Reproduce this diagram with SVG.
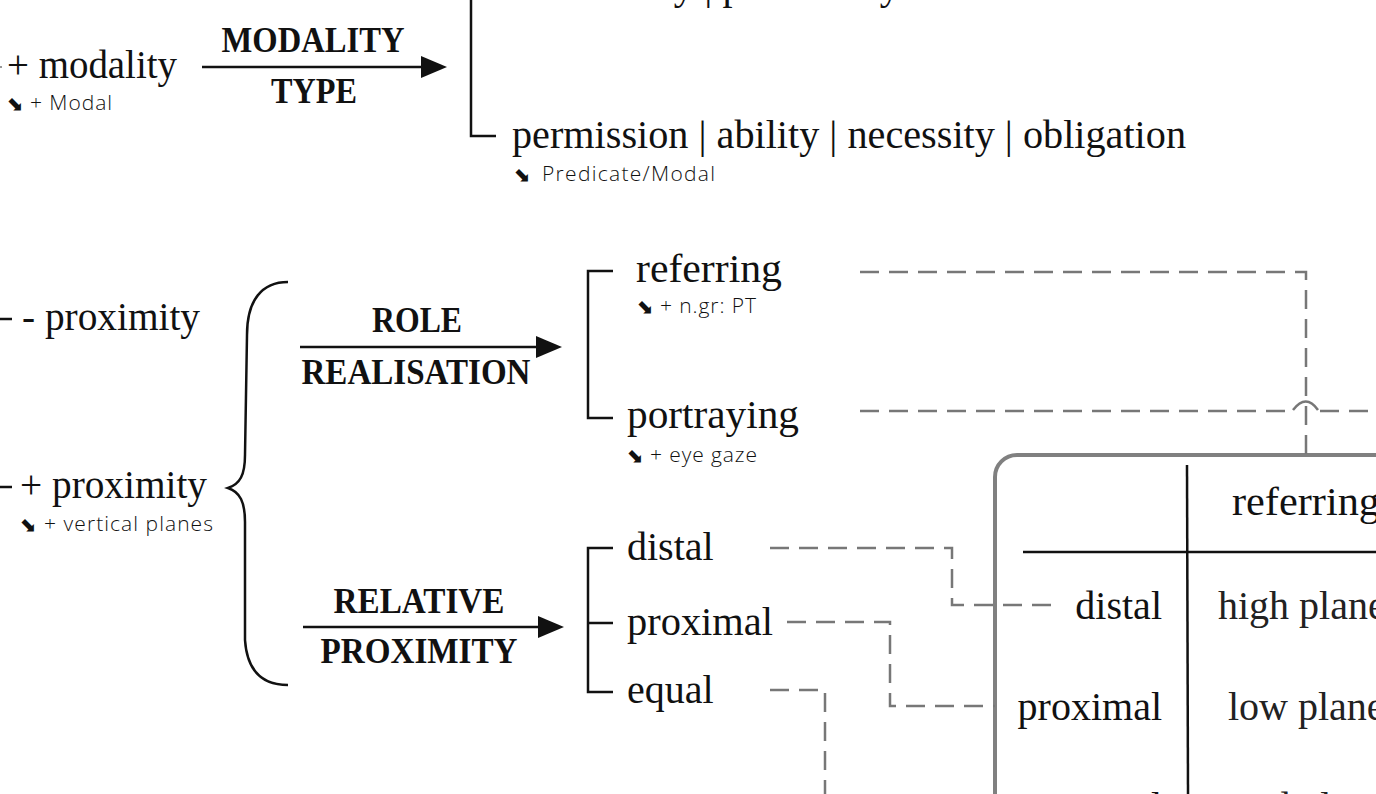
<svg xmlns="http://www.w3.org/2000/svg" width="1376" height="794" viewBox="0 0 1376 794">
<style>
.t{font-family:"Liberation Serif","Times New Roman",serif;font-size:40px;fill:#111}
.b{font-family:"Liberation Serif","Times New Roman",serif;font-size:35px;font-weight:bold;fill:#111;text-anchor:middle}
.s{font-family:"Open Sans","Noto Sans",sans-serif;font-size:21px;font-weight:300;fill:#111}
.a{font-family:"DejaVu Sans",sans-serif;font-size:20px;font-weight:bold;fill:#111}
.ln{stroke:#111;stroke-width:2.5;fill:none}
.d{stroke:#777;stroke-width:2.5;fill:none;stroke-dasharray:19 10}
.cell{font-family:"Liberation Serif","Times New Roman",serif;font-size:40px;fill:#222}
.r{text-anchor:end}
</style>
<defs>
<marker id="ah" markerUnits="userSpaceOnUse" markerWidth="26" markerHeight="22" viewBox="0 0 26 22" refX="1" refY="11" orient="auto">
<path d="M0,0 L26,11 L0,22 z" fill="#111"/>
</marker>
</defs>

<g id="modality">
<line x1="0" y1="67" x2="2" y2="67" stroke="#999" stroke-width="2"/>
<text class="t" x="7" y="78" textLength="170" lengthAdjust="spacingAndGlyphs">+ modality</text>
<text y="110"><tspan class="a" x="6">⬊</tspan><tspan class="s" x="30" textLength="82">+ Modal</tspan></text>
</g>

<g id="modality-type">
<text class="b" x="313" y="52" textLength="183" lengthAdjust="spacingAndGlyphs">MODALITY</text>
<text class="b" x="314" y="103" textLength="86" lengthAdjust="spacingAndGlyphs">TYPE</text>
</g>

<g id="modality-options">
<path class="ln" d="M471,0 V136 H496"/>
<text class="t" x="512" y="-1" textLength="388" lengthAdjust="spacingAndGlyphs">uncertainty | probability</text>
<text class="t" x="512" y="148" textLength="674" lengthAdjust="spacingAndGlyphs">permission | ability | necessity | obligation</text>
<text y="181"><tspan class="a" x="513">⬊</tspan><tspan class="s" x="542" textLength="173">Predicate/Modal</tspan></text>
</g>

<g id="minus-proximity">
<line class="ln" x1="0" y1="319" x2="12" y2="319"/>
<text class="t" x="22" y="330" textLength="178" lengthAdjust="spacingAndGlyphs">- proximity</text>
</g>

<g id="plus-proximity">
<line class="ln" x1="0" y1="487" x2="12" y2="487"/>
<text class="t" x="20" y="498" textLength="187" lengthAdjust="spacingAndGlyphs">+ proximity</text>
<text y="531"><tspan class="a" x="19">⬊</tspan><tspan class="s" x="44" textLength="169">+ vertical planes</tspan></text>
</g>

<g id="brace">
<path class="ln" d="M288,282 C262,282 247,300 247,335 L245,455 C245,475 240,484 228,488 C240,492 245,502 245,522 L245,640 C247,670 262,685 288,685"/>
</g>

<g id="role-realisation">
<text class="b" x="417" y="332" textLength="90" lengthAdjust="spacingAndGlyphs">ROLE</text>
<text class="b" x="416" y="384" textLength="229" lengthAdjust="spacingAndGlyphs">REALISATION</text>
</g>

<g id="relative-proximity">
<text class="b" x="419" y="613" textLength="171" lengthAdjust="spacingAndGlyphs">RELATIVE</text>
<text class="b" x="419" y="663" textLength="197" lengthAdjust="spacingAndGlyphs">PROXIMITY</text>
</g>

<g id="role-options">
<path class="ln" d="M613,271 H588 V418 H613"/>
<text class="t" x="636" y="282" textLength="146" lengthAdjust="spacingAndGlyphs">referring</text>
<text y="313"><tspan class="a" x="636">⬊</tspan><tspan class="s" x="660" textLength="96">+ n.gr: PT</tspan></text>
<text class="t" x="627" y="428" textLength="172" lengthAdjust="spacingAndGlyphs">portraying</text>
<text y="462"><tspan class="a" x="626">⬊</tspan><tspan class="s" x="650" textLength="107">+ eye gaze</tspan></text>
</g>

<g id="proximity-options">
<path class="ln" d="M613,548 H588 V692 H613 M588,623 H613"/>
<text class="t" x="627" y="560">distal</text>
<text class="t" x="627" y="635" textLength="146" lengthAdjust="spacingAndGlyphs">proximal</text>
<text class="t" x="627" y="703">equal</text>
</g>

<g id="table">
<rect x="995" y="455" width="520" height="500" rx="22" fill="none" stroke="#808080" stroke-width="4"/>
<line class="ln" x1="1187" y1="465" x2="1188" y2="794" stroke-width="2"/>
<line class="ln" x1="1023" y1="552" x2="1376" y2="552" stroke-width="2"/>
<text class="t" x="1232" y="515" textLength="148" lengthAdjust="spacingAndGlyphs">referring</text>
<text class="t r" x="1162" y="619">distal</text>
<text class="t r" x="1162" y="720">proximal</text>
<text class="t r" x="1162" y="820">equal</text>
<text class="cell" x="1218" y="619">high plane</text>
<text class="cell" x="1228" y="720">low plane</text>
<text class="cell" x="1228" y="820">mid plane</text>
</g>

<g id="connectors">
<line class="ln" x1="202" y1="67" x2="422" y2="67" marker-end="url(#ah)"/>
<line class="ln" x1="300" y1="347" x2="537" y2="347" marker-end="url(#ah)"/>
<line class="ln" x1="303" y1="627" x2="539" y2="627" marker-end="url(#ah)"/>
<path class="d" d="M860,272 H1306 V455"/>
<path class="d" d="M860,411 H1293"/>
<path d="M1293,410 Q1306,393 1318,410" fill="none" stroke="#777" stroke-width="2.5"/>
<path class="d" d="M1320,411 H1376"/>
<path class="d" d="M770,548 H952 V605 H1060"/>
<path class="d" d="M787,622 H890 V706 H995"/>
<path class="d" d="M770,690 H825 V794"/>
</g>
</svg>
